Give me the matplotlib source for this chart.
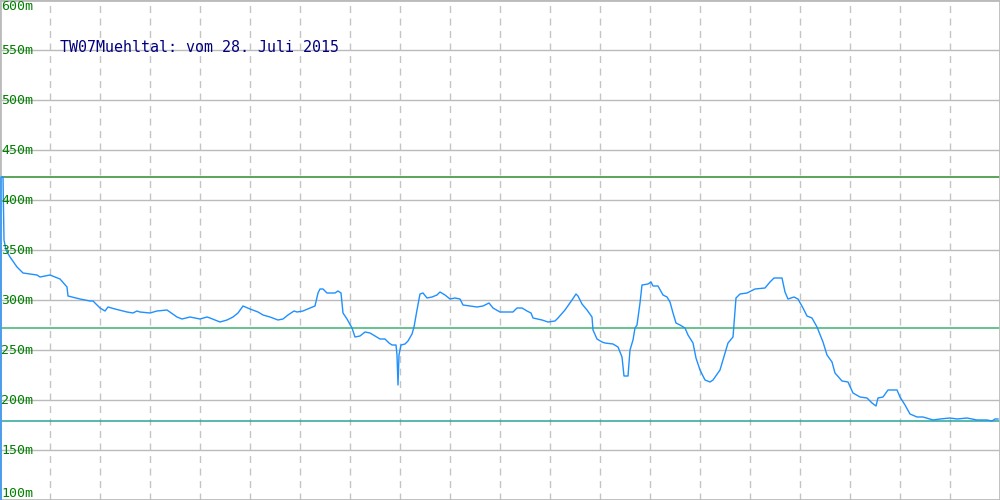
import matplotlib
matplotlib.use('Agg')
import matplotlib.pyplot as plt

# Messreihe (x = Zeitindex, Wert in m)
t = [1, 1, 3, 4, 6, 10, 17, 23, 30, 37, 40, 50, 60, 67, 68, 80, 90, 93, 100,
     105, 108, 115, 127, 133, 137, 140, 150, 157, 167, 177, 182, 190, 200, 207,
     210, 220, 227, 233, 238, 243, 250, 258, 263, 270, 278, 283, 288, 294, 297,
     303, 310, 315, 318, 320, 323, 327, 335, 338, 341, 343, 347, 352, 355, 360,
     365, 370, 375, 380, 385, 389, 392, 396, 397, 398, 399, 401, 405, 408, 412,
     414, 417, 420, 423, 427, 432, 437, 440, 445, 450, 455, 460, 463, 470, 477,
     483, 489, 493, 500, 513, 517, 522, 527, 531, 533, 542, 548, 555, 558, 565,
     572, 576, 578, 582, 587, 592, 593, 597, 602, 605, 613, 618, 622, 624, 628,
     630, 633, 635, 637, 640, 642, 648, 651, 653, 658, 663, 667, 670, 673, 676,
     680, 685, 688, 693, 696, 700, 705, 710, 713, 720, 723, 728, 733, 736, 740,
     747, 755, 765, 770, 774, 782, 785, 788, 794, 798, 803, 807, 812, 817, 823,
     827, 832, 835, 842, 848, 853, 860, 867, 872, 876, 878, 883, 888, 897, 900,
     905, 910, 917, 923, 933, 940, 950, 957, 967, 977, 987, 992, 995, 998]
hoehe = [100, 423, 423, 360, 350, 343, 333, 327, 326, 325, 323, 325, 321, 313,
         304, 301, 299, 299, 292, 289, 293, 291, 288, 287, 289, 288, 287, 289, 290,
         283, 281, 283, 281, 283, 282, 278, 280, 283, 287, 294, 291, 288, 285, 283,
         280, 281, 285, 289, 288, 289, 292, 294, 307, 311, 311, 307, 307, 309, 307,
         287, 281, 272, 263, 264, 268, 267, 264, 261, 261, 257, 255, 255, 245, 215,
         245, 255, 256, 259, 266, 273, 290, 306, 307, 302, 303, 305, 308, 305, 301,
         302, 301, 295, 294, 293, 294, 297, 292, 288, 288, 292, 292, 289, 287, 282,
         280, 278, 279, 282, 290, 300, 306, 304, 296, 290, 283, 270, 261, 258, 257,
         256, 253, 243, 224, 224, 250, 260, 272, 275, 297, 315, 316, 318, 314, 314,
         305, 303, 298, 287, 277, 275, 272, 265, 257, 242, 230, 220, 218, 220, 230,
         240, 257, 263, 302, 306, 307, 311, 312, 318, 322, 322, 308, 301, 303, 301,
         292, 284, 282, 273, 258, 245, 238, 227, 219, 218, 207, 203, 202, 197, 194,
         202, 203, 210, 210, 203, 195, 186, 183, 183, 180, 181, 182, 181, 182, 180,
         180, 179, 181, 181]

grenz_oben = 423
grenz_mitte = 272
grenz_unten = 179

y_ticks = [100, 150, 200, 250, 300, 350, 400, 450, 500, 550, 600]
x_grid = list(range(50, 1000, 50))

fig = plt.figure(figsize=(10, 5), dpi=100)
ax = fig.add_axes([0, 0, 1, 1])
ax.set_xlim(0, 1000)
ax.set_ylim(100, 600)
ax.set_xticks([])
ax.set_yticks([])
for s in ax.spines.values():
    s.set_color('#bbbbbb')
    s.set_linewidth(2)

for v in y_ticks:
    ax.axhline(v, color='#bbbbbb', lw=1.0, zorder=1)
for x in x_grid:
    ax.axvline(x, color='#c4c4c4', lw=1.0, ls=(0, (5, 4)), zorder=1)

ax.axhline(grenz_oben, color='#2e8b2e', lw=1.1, zorder=2)
ax.axhline(grenz_mitte, color='#3cb371', lw=1.1, zorder=2)
ax.axhline(grenz_unten, color='#2aa594', lw=1.1, zorder=2)

ax.plot(t, hoehe, color='#1e90ff', lw=1.0, zorder=3)

for v in y_ticks:
    va = 'center'
    if v == 600:
        va = 'top'
    elif v == 100:
        va = 'bottom'
    ax.text(1, v, f'{v}m', color='#008000', fontsize=9.5, family='DejaVu Sans Mono',
            va=va, ha='left', zorder=4)

ax.text(60, 553, 'TW07Muehltal: vom 28. Juli 2015', color='#000080', fontsize=10.8,
        family='DejaVu Sans Mono', va='center', ha='left', zorder=4)

fig.savefig('out.png', dpi=100)
